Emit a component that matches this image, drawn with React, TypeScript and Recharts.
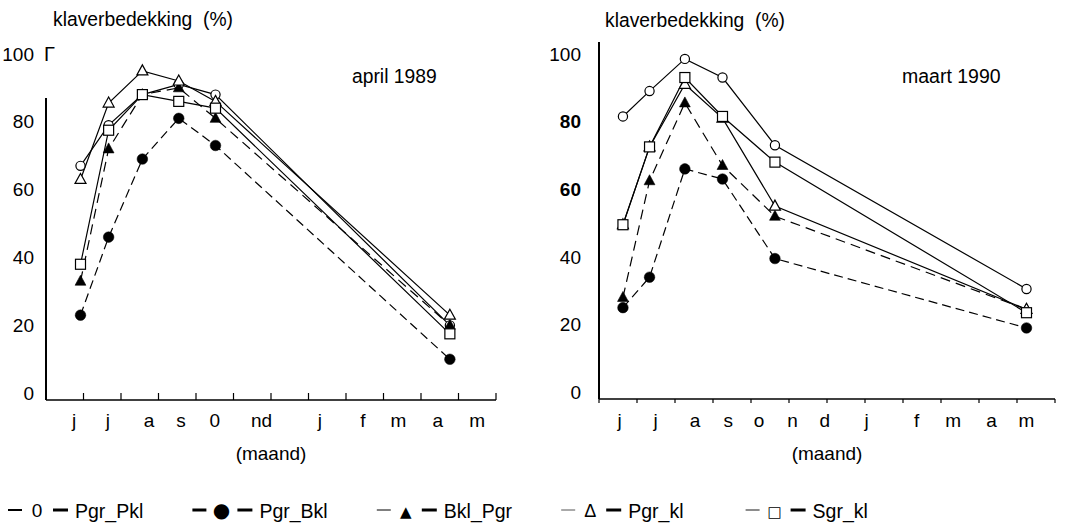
import React from 'react';
import { LineChart, Line, XAxis, YAxis, ReferenceLine } from 'recharts';

// ---------- data ----------
const seriesNames = ['Pgr_Pkl', 'Pgr_Bkl', 'Bkl_Pgr', 'Pgr_kl', 'Sgr_kl'];
const legendGlyphs = ['0', '●', '▲', 'Δ', '□'];

const yTicks = [0, 20, 40, 60, 80, 100];
const monthBounds = [0, 1, 2, 3, 4, 5, 6, 7, 8, 9, 10, 11, 12];

const monthLabels1989 = ['j', 'j', 'a', 's', '0', 'nd', 'j', 'f', 'm', 'a', 'm'];
const monthLabelPos1989 = [0.75, 1.65, 2.75, 3.6, 4.5, 5.75, 7.3, 8.45, 9.4, 10.45, 11.5];
const monthLabels1990 = ['j', 'j', 'a', 's', 'o', 'n', 'd', 'j', 'f', 'm', 'a', 'm'];
const monthLabelPos1990 = [0.54, 1.49, 2.53, 3.4, 4.21, 5.09, 5.94, 7.04, 8.36, 9.32, 10.33, 11.25];

// april 1989 panel
const sampleMonths1989 = [0.92, 1.67, 2.57, 3.54, 4.52, 10.77];
const pgrPkl1989 = [67, 79, 88, 91, 88, 20];
const pgrBkl1989 = [23, 46, 69, 81, 73, 10];
const bklPgr1989 = [33, 72, 88, 90, 81, 20];
const pgrKl1989 = [63, 85.5, 95, 92, 86, 23];
const sgrKl1989 = [38, 77.5, 88, 86, 84, 17.5];

// maart 1990 panel
const sampleMonths1990 = [0.63, 1.33, 2.26, 3.25, 4.63, 11.25];
const pgrPkl1990 = [81.5, 89, 98.5, 93, 73, 30.5];
const pgrBkl1990 = [25, 34, 66, 63, 39.5, 19];
const bklPgr1990 = [28, 62.5, 85.5, 67, 52, 24.5];
const pgrKl1990 = [49.5, 72.5, 91, 81, 55, 24.5];
const sgrKl1990 = [49.5, 72.5, 93, 81.5, 68, 23.5];

function buildRows(months: number[], cols: number[][]) {
  return months.map((m, i) => {
    const row: Record<string, number> = { m };
    seriesNames.forEach((n, k) => {
      row[n] = cols[k][i];
    });
    return row;
  });
}

const rows1989 = buildRows(sampleMonths1989, [pgrPkl1989, pgrBkl1989, bklPgr1989, pgrKl1989, sgrKl1989]);
const rows1990 = buildRows(sampleMonths1990, [pgrPkl1990, pgrBkl1990, bklPgr1990, pgrKl1990, sgrKl1990]);

// ---------- styles ----------
const FONT = '"Liberation Sans", Arial, sans-serif';
const SYMBOL_FONT = '"DejaVu Sans", sans-serif';
const seriesDash: Record<string, string | undefined> = {
  Pgr_Pkl: undefined,
  Pgr_Bkl: '9 5',
  Bkl_Pgr: '10 6',
  Pgr_kl: undefined,
  Sgr_kl: undefined,
};
const seriesMarker: Record<string, string> = {
  Pgr_Pkl: 'openCircle',
  Pgr_Bkl: 'filledCircle',
  Bkl_Pgr: 'filledTriangle',
  Pgr_kl: 'openTriangle',
  Sgr_kl: 'openSquare',
};
const legendDash1Width = [2, 3, 1, 1, 1.5];
const legendDash1Color = ['#000', '#000', '#000', '#555', '#666'];
const legendGlyphSize = [19, 20, 15, 18, 15];
const legendGlyphFont = [FONT, SYMBOL_FONT, SYMBOL_FONT, FONT, SYMBOL_FONT];

function Marker({ kind, cx, cy }: { kind: string; cx: number; cy: number }) {
  if (cx == null || cy == null) return null;
  const sw = 1.2;
  switch (kind) {
    case 'openCircle':
      return <circle cx={cx} cy={cy} r={4.6} fill="#fff" stroke="#000" strokeWidth={sw} />;
    case 'filledCircle':
      return <circle cx={cx} cy={cy} r={5.3} fill="#000" stroke="#000" strokeWidth={0.5} />;
    case 'filledTriangle':
      return (
        <polygon
          points={`${cx},${cy - 6} ${cx + 5.4},${cy + 4} ${cx - 5.4},${cy + 4}`}
          fill="#000"
          stroke="#000"
          strokeWidth={0.6}
        />
      );
    case 'openTriangle':
      return (
        <polygon
          points={`${cx},${cy - 6} ${cx + 5.5},${cy + 4} ${cx - 5.5},${cy + 4}`}
          fill="#fff"
          stroke="#000"
          strokeWidth={sw}
        />
      );
    default:
      return <rect x={cx - 5} y={cy - 5} width={10} height={10} fill="#fff" stroke="#000" strokeWidth={sw} />;
  }
}

function YTick(props: any) {
  const { x, y, payload, bold, gamma, margin } = props;
  const v = payload.value;
  return (
    <g>
      <text
        x={x}
        y={y}
        dy="0.355em"
        textAnchor="end"
        fontSize={19}
        fontFamily={FONT}
        fontWeight={bold.includes(v) ? 'bold' : 'normal'}
        fill="#000"
      >
        {v}
      </text>
      {gamma && v === 100 ? (
        <text x={x + margin - 2} y={y} dy="0.355em" fontSize={20} fontFamily={FONT} fontWeight="300" fill="#000">
          Γ
        </text>
      ) : null}
    </g>
  );
}

type PanelProps = {
  left: number;
  width: number;
  yAxisWidth: number;
  marginRight: number;
  rows: Record<string, number>[];
  labels: string[];
  labelPos: number[];
  tickMargin: number;
  boldTicks: number[];
  gamma: boolean;
  partialAxis: boolean;
  tickUp: boolean;
};

function Panel(p: PanelProps) {
  return (
    <div style={{ position: 'absolute', left: p.left, top: 0 }}>
      <LineChart
        width={p.width}
        height={480}
        data={p.rows}
        margin={{ top: 42, right: p.marginRight, bottom: 0, left: 0 }}
      >
        <XAxis
          xAxisId="b"
          type="number"
          dataKey="m"
          domain={[0, 12]}
          ticks={monthBounds}
          interval={0}
          height={1}
          mirror={p.tickUp}
          tickSize={p.tickUp ? 7 : 4}
          tickFormatter={() => ''}
          axisLine={{ stroke: '#000', strokeWidth: 1.3 }}
          tickLine={{ stroke: '#000', strokeWidth: 1.2 }}
        />
        <XAxis
          xAxisId="lab"
          type="number"
          dataKey="m"
          domain={[0, 12]}
          ticks={p.labelPos}
          interval={0}
          height={80}
          tickSize={0}
          tickMargin={14}
          axisLine={false}
          tickLine={false}
          tickFormatter={(_v: number, i: number) => p.labels[i]}
          tick={{ fontSize: 19, fill: '#000', fontFamily: FONT }}
          label={{ value: '(maand)', position: 'insideBottom', offset: 20, fontSize: 19, fill: '#000', fontFamily: FONT }}
        />
        <YAxis
          type="number"
          domain={[-2, 103.5]}
          ticks={yTicks}
          interval={0}
          width={p.yAxisWidth}
          tickSize={0}
          tickMargin={p.tickMargin}
          axisLine={p.partialAxis ? false : { stroke: '#000', strokeWidth: 2 }}
          tickLine={false}
          tick={(tp: any) => (
            <YTick key={`yt-${tp.payload.value}`} {...tp} bold={p.boldTicks} gamma={p.gamma} margin={p.tickMargin} />
          )}
        />
        {p.partialAxis ? (
          <ReferenceLine
            xAxisId="b"
            segment={[
              { x: 0, y: -2 },
              { x: 0, y: 87 },
            ]}
            stroke="#000"
            strokeWidth={2}
          />
        ) : null}
        {seriesNames.map((name) => (
          <Line
            key={name}
            xAxisId="b"
            type="linear"
            dataKey={name}
            stroke="#000"
            strokeWidth={1.2}
            strokeDasharray={seriesDash[name]}
            isAnimationActive={false}
            dot={(dp: any) => (
              <Marker key={`${name}-${dp.index}`} kind={seriesMarker[name]} cx={dp.cx} cy={dp.cy} />
            )}
            activeDot={false}
          />
        ))}
      </LineChart>
    </div>
  );
}

function Overlay() {
  return (
    <svg
      width={1070}
      height={524}
      style={{ position: 'absolute', left: 0, top: 0, pointerEvents: 'none' }}
      fontFamily={FONT}
    >
      <text x={53} y={26} fontSize={19.3} fill="#000" style={{ whiteSpace: 'pre' }}>
        {'klaverbedekking  (%)'}
      </text>
      <text x={605} y={27} fontSize={19.3} fill="#000" style={{ whiteSpace: 'pre' }}>
        {'klaverbedekking  (%)'}
      </text>
      <text x={352} y={83} fontSize={19.3} fill="#000">
        april 1989
      </text>
      <text x={902} y={83} fontSize={19.5} fill="#000">
        maart 1990
      </text>
      {seriesNames.map((name, i) => {
        const x0 = 8 + i * 184.4;
        return (
          <g key={name}>
            <line x1={x0} x2={x0 + 14} y1={510} y2={510} stroke={legendDash1Color[i]} strokeWidth={legendDash1Width[i]} />
            <text
              x={x0 + 29}
              y={517}
              fontSize={legendGlyphSize[i]}
              fontFamily={legendGlyphFont[i]}
              textAnchor="middle"
              fill="#000"
            >
              {legendGlyphs[i]}
            </text>
            <line x1={x0 + 45} x2={x0 + 60} y1={510} y2={510} stroke="#000" strokeWidth={3} />
            <text x={x0 + 67} y={518} fontSize={19.5} fill="#000">
              {name}
            </text>
          </g>
        );
      })}
    </svg>
  );
}

export default function App() {
  return (
    <div
      style={{
        position: 'absolute',
        left: 0,
        top: 0,
        width: 1070,
        height: 524,
        background: '#fff',
        fontFamily: FONT,
        overflow: 'hidden',
      }}
    >
      <Panel
        left={0}
        width={540}
        yAxisWidth={46}
        marginRight={44}
        rows={rows1989}
        labels={monthLabels1989}
        labelPos={monthLabelPos1989}
        tickMargin={12}
        boldTicks={[]}
        gamma={true}
        partialAxis={true}
        tickUp={true}
      />
      <Panel
        left={540}
        width={530}
        yAxisWidth={59}
        marginRight={15}
        rows={rows1990}
        labels={monthLabels1990}
        labelPos={monthLabelPos1990}
        tickMargin={18}
        boldTicks={[80, 60]}
        gamma={false}
        partialAxis={false}
        tickUp={false}
      />
      <Overlay />
    </div>
  );
}
